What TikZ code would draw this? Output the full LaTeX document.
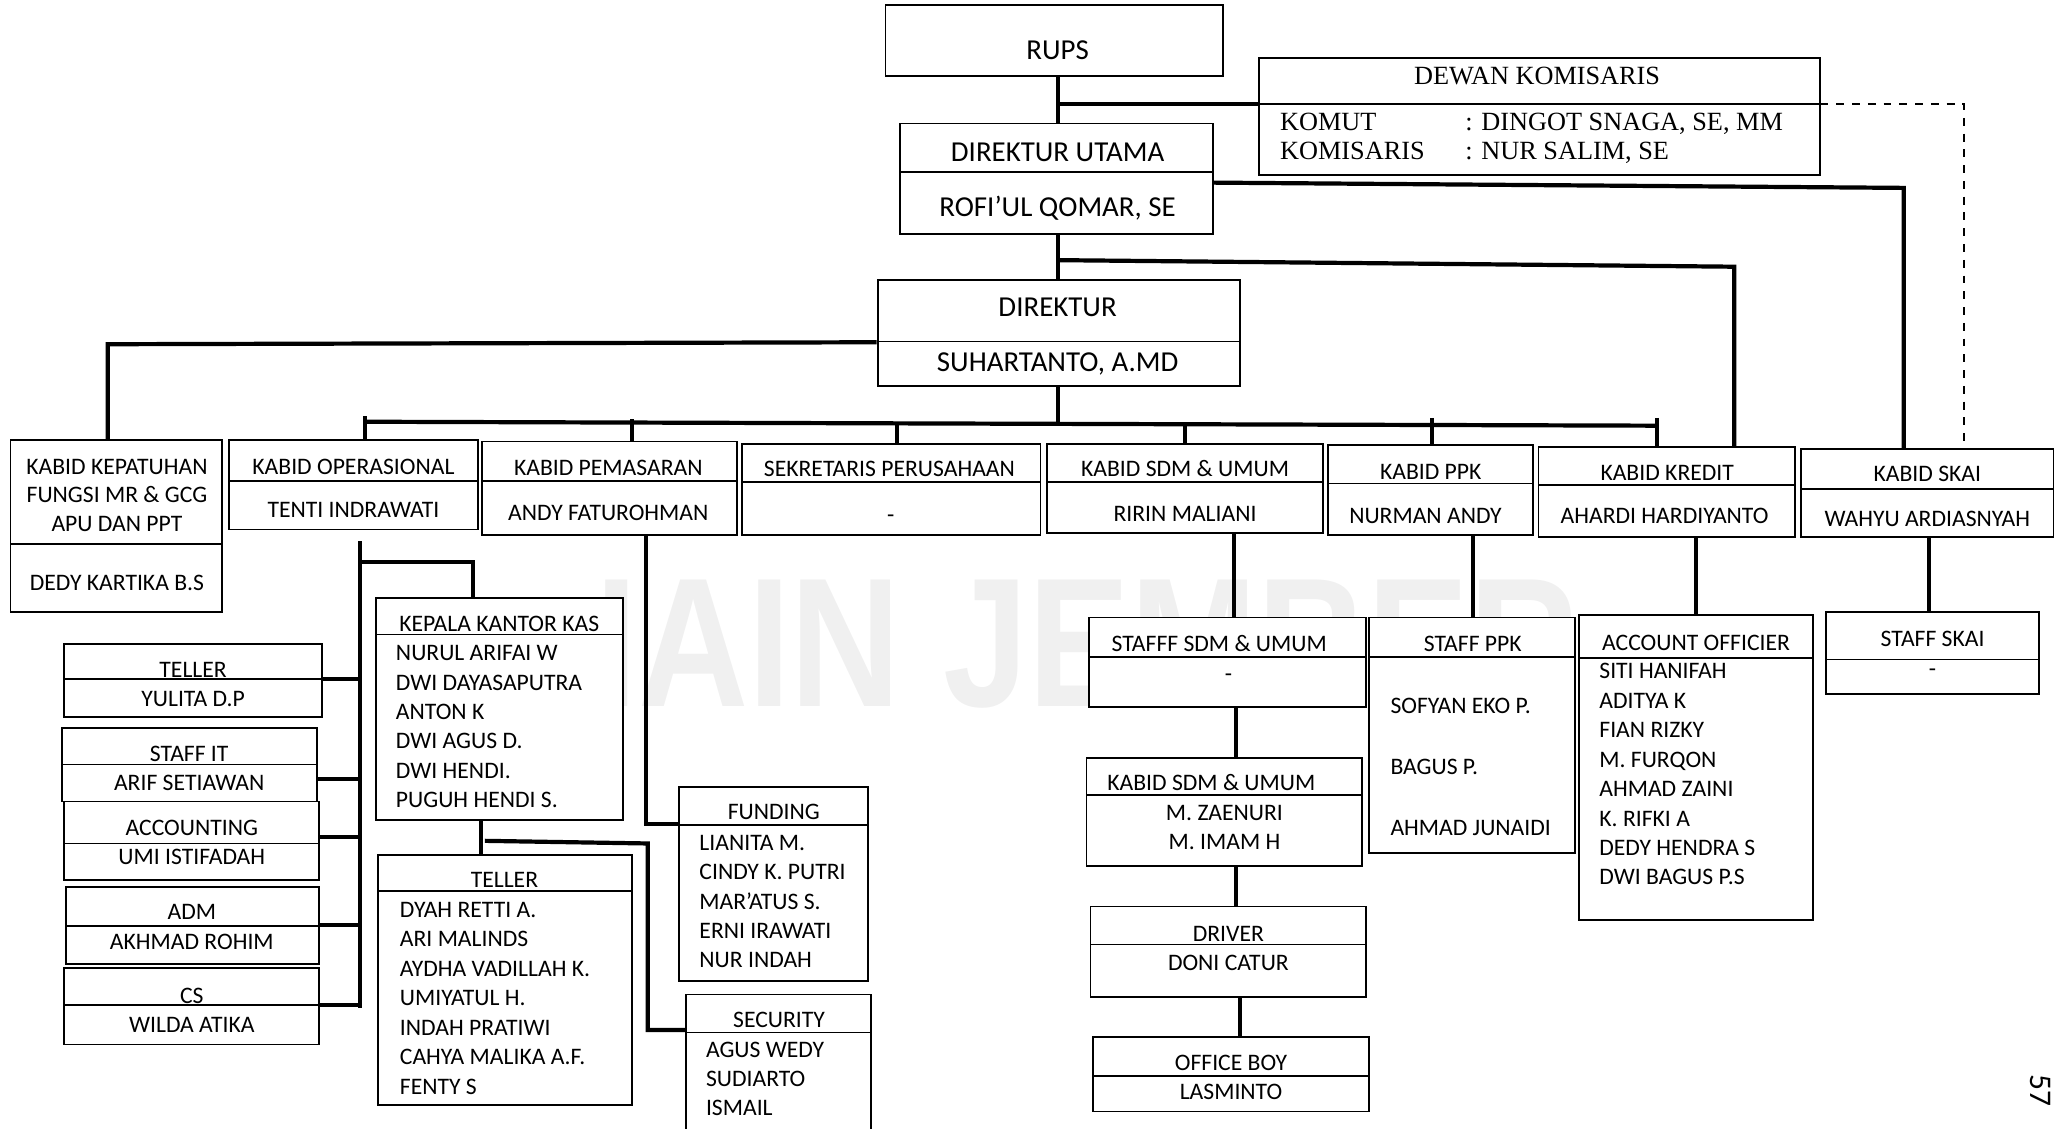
\documentclass[tikz,border=0pt]{standalone}
\usepackage{fontspec}
\setmainfont{Carlito}
\newfontfamily\timesf{Liberation Serif}
\newfontfamily\wmfont{Liberation Sans}
\usetikzlibrary{fit}

\tikzset{
  box/.style={draw, fill=white, line width=0.7pt, inner sep=0pt},
  sep/.style={line width=0.6pt},
  link/.style={line width=1.6pt},
  lbl/.style={inner sep=0pt, text height=5.8pt, text depth=0pt, font=\fontsize{9}{11}\selectfont},
  big/.style={lbl, text height=7.1pt, font=\fontsize{11}{13}\selectfont},
  item/.style={lbl, anchor=west},
  kom/.style={inner sep=0pt, anchor=west, text height=6.6pt, text depth=0pt, font=\timesf\fontsize{10}{12}\selectfont},
  wm/.style={inner sep=0pt, text=black!6, font=\wmfont\bfseries\fontsize{70}{70}\selectfont},
}

% box with a rule under the title: name, x1, y1, x2, y2, y of rule
\newcommand{\orgbox}[6]{%
  \node[box, fit={(#2,#3) (#4,#5)}] (#1) {};
  \draw[sep] (#2,#6) -- (#4,#6);}

\begin{document}
\begin{tikzpicture}[x=0.5pt, y=-0.5pt]
  \useasboundingbox (0,0) rectangle (1568,859);
  \clip (0,0) rectangle (1568,859);

  \node[wm] (wmark) at (828,490) {\scalebox{0.83}[1]{IAIN JEMBER}};

  % top
  \node[box, fit={(674,4) (931,58)}] (rups) {};
  \node[big] (rups-t) at (805,38) {RUPS};
  \orgbox{dewan}{958}{44}{1385}{133}{79}
  \node[kom, anchor=center] (dewan-t) at (1170,58) {DEWAN KOMISARIS};
  \node[kom] (komut) at (974,93) {KOMUT};
  \node[kom] (komut-n) at (1115,93) {: DINGOT SNAGA, SE, MM};
  \node[kom] (komis) at (974,115) {KOMISARIS};
  \node[kom] (komis-n) at (1115,115) {: NUR SALIM, SE};
  \orgbox{dirut}{685}{94}{923}{178}{131}
  \node[big] (dirut-t) at (805,116) {DIREKTUR UTAMA};
  \node[big] (dirut-n) at (805,158) {ROFI’UL QOMAR, SE};
  \orgbox{dir}{668}{213}{944}{294}{260}
  \node[big] (dir-t) at (805,234) {DIREKTUR};
  \node[big] (dir-n) at (805,276) {SUHARTANTO, A.MD};

  % kabid row
  \orgbox{kepat}{8}{335}{169}{466}{414}
  \node[lbl] (kepat-t1) at (89,355) {KABID KEPATUHAN};
  \node[lbl] (kepat-t2) at (89,377) {FUNGSI MR \& GCG};
  \node[lbl] (kepat-t3) at (89,399) {APU DAN PPT};
  \node[lbl] (kepat-n) at (89,444) {DEDY KARTIKA B.S};
  \orgbox{oper}{174}{335}{364}{403}{366}
  \node[lbl] (oper-t) at (269,355) {KABID OPERASIONAL};
  \node[lbl] (oper-n) at (269,388) {TENTI INDRAWATI};
  \orgbox{pemas}{367}{336}{561}{407}{366}
  \node[lbl] (pemas-t) at (463,356) {KABID PEMASARAN};
  \node[lbl] (pemas-n) at (463,390) {ANDY FATUROHMAN};
  \orgbox{sekr}{565}{338}{792}{407}{367}
  \node[lbl] (sekr-t) at (677,357) {SEKRETARIS PERUSAHAAN};
  \node[lbl] (sekr-n) at (678,392) {-};
  \orgbox{sdm}{797}{338}{1007}{406}{367}
  \node[lbl] (sdm-t) at (902,357) {KABID SDM \& UMUM};
  \node[lbl] (sdm-n) at (902,391) {RIRIN MALIANI};
  \orgbox{ppk}{1011}{339}{1167}{407}{368}
  \node[lbl] (ppk-t) at (1089,359) {KABID PPK};
  \node[lbl] (ppk-n) at (1085,393) {NURMAN ANDY};
  \orgbox{kredit}{1171}{340}{1366}{409}{369}
  \node[lbl] (kredit-t) at (1269,360) {KABID KREDIT};
  \node[lbl] (kredit-n) at (1267,393) {AHARDI HARDIYANTO};
  \orgbox{skai}{1371}{342}{1563}{409}{372}
  \node[lbl] (skai-t) at (1467,361) {KABID SKAI};
  \node[lbl] (skai-n) at (1467,395) {WAHYU ARDIASNYAH};

  % operasional staff
  \orgbox{tel1}{49}{490}{245}{546}{517}
  \node[lbl] (tel1-t) at (147,510) {TELLER};
  \node[lbl] (tel1-n) at (147,532) {YULITA D.P};
  \orgbox{sit}{47}{554}{241}{610}{582}
  \node[lbl] (sit-t) at (144,574) {STAFF IT};
  \node[lbl] (sit-n) at (144,596) {ARIF SETIAWAN};
  \orgbox{acc}{49}{610}{243}{670}{642}
  \node[lbl] (acc-t) at (146,630) {ACCOUNTING};
  \node[lbl] (acc-n) at (146,652) {UMI ISTIFADAH};
  \orgbox{adm}{50}{675}{243}{734}{705}
  \node[lbl] (adm-t) at (146,694) {ADM};
  \node[lbl] (adm-n) at (146,717) {AKHMAD ROHIM};
  \orgbox{cs}{49}{737}{243}{795}{765}
  \node[lbl] (cs-t) at (146,758) {CS};
  \node[lbl] (cs-n) at (146,780) {WILDA ATIKA};

  \orgbox{kkk}{286}{455}{474}{624}{483}
  \node[lbl] (kkk-t) at (380,475) {KEPALA KANTOR KAS};
  \foreach \s [count=\i] in {NURUL ARIFAI W, DWI DAYASAPUTRA, ANTON K, DWI AGUS D., DWI HENDI., PUGUH HENDI S.}
    \node[item] (kkk-\i) at (301,{497+22.4*(\i-1)}) {\s};
  \orgbox{tel2}{288}{651}{481}{841}{678}
  \node[lbl] (tel2-t) at (384,670) {TELLER};
  \foreach \s [count=\i] in {DYAH RETTI A., ARI MALINDS, AYDHA VADILLAH K., UMIYATUL H., INDAH PRATIWI, CAHYA MALIKA A.F., FENTY S}
    \node[item] (tel2-\i) at (304,{692.5+22.4*(\i-1)}) {\s};
  \orgbox{fund}{517}{599}{661}{747}{628}
  \node[lbl] (fund-t) at (589,618) {FUNDING};
  \foreach \s [count=\i] in {LIANITA M., CINDY K. PUTRI, MAR’ATUS S., ERNI IRAWATI, NUR INDAH}
    \node[item] (fund-\i) at (532,{641.7+22.25*(\i-1)}) {\s};
  \orgbox{sec}{522}{757}{663}{880}{786}
  \node[lbl] (sec-t) at (593,776) {SECURITY};
  \foreach \s [count=\i] in {AGUS WEDY, SUDIARTO, ISMAIL}
    \node[item] (sec-\i) at (537,{799+22.3*(\i-1)}) {\s};

  % sdm staff
  \orgbox{stsdm}{829}{470}{1040}{538}{500}
  \node[lbl] (stsdm-t) at (928,490) {STAFFF SDM \& UMUM};
  \node[lbl] (stsdm-n) at (935,513) {-};
  \orgbox{sdm2}{827}{577}{1037}{659}{605}
  \node[lbl] (sdm2-t) at (922,596) {KABID SDM \& UMUM};
  \node[lbl] (sdm2-n1) at (932,619) {M. ZAENURI};
  \node[lbl] (sdm2-n2) at (932,641) {M. IMAM H};
  \orgbox{drv}{830}{690}{1040}{759}{719}
  \node[lbl] (drv-t) at (935,711) {DRIVER};
  \node[lbl] (drv-n) at (935,733) {DONI CATUR};
  \orgbox{ob}{832}{789}{1042}{846}{819}
  \node[lbl] (ob-t) at (937,809) {OFFICE BOY};
  \node[lbl] (ob-n) at (937,831) {LASMINTO};

  % ppk, kredit, skai staff
  \orgbox{stppk}{1042}{470}{1199}{649}{500}
  \node[lbl] (stppk-t) at (1121,490) {STAFF PPK};
  \foreach \s [count=\i] in {SOFYAN EKO P., BAGUS P., AHMAD JUNAIDI}
    \node[item] (stppk-\i) at (1058,{537+46.7*(\i-1)}) {\s};
  \orgbox{ao}{1202}{468}{1380}{700}{501}
  \node[lbl] (ao-t) at (1291,489) {ACCOUNT OFFICIER};
  \foreach \s [count=\i] in {SITI HANIFAH, ADITYA K, FIAN RIZKY, M. FURQON, AHMAD ZAINI, K. RIFKI A, DEDY HENDRA S, DWI BAGUS P.S}
    \node[item] (ao-\i) at (1217,{511+22.4*(\i-1)}) {\s};
  \orgbox{stskai}{1390}{466}{1552}{528}{502}
  \node[lbl] (stskai-t) at (1471,486) {STAFF SKAI};
  \node[lbl] (stskai-n) at (1471,509) {-};

  \node[rotate=-90, inner sep=0pt, font=\fontsize{12}{14}\selectfont] (page) at (1553,830) {57};

  % lines
  \coordinate (j-rups) at (805,79);
  \coordinate (j-dir) at (805,198);
  \coordinate (dash) at (1495,79);
  \coordinate (to-skai) at (1449,143);
  \coordinate (to-kredit) at (1320,203);
  \coordinate (to-kepat) at (82,262);
  \coordinate (bus-l) at (278,321);
  \coordinate (bus-r) at (1261,324);
  \coordinate (bus-m) at (805,322.6);
  \draw[link] (rups.south -| j-rups) -- (dirut.north -| j-rups);
  \draw[link] (j-rups) -- (dewan.west |- j-rups);
  \draw[dashed, line width=0.6pt] (dewan.east |- dash) -- (dash) -- (dash |- skai.north);
  \draw[link] ([yshift=-1.5pt]dirut.east) -- (to-skai) -- (to-skai |- skai.north);
  \draw[link] (dirut.south -| j-dir) -- (dir.north -| j-dir);
  \draw[link] (j-dir) -- (to-kredit) -- (to-kredit |- kredit.north);
  \draw[link] ([yshift=-3.5pt]dir.west) -- (to-kepat) -- (to-kepat |- kepat.north);
  \draw[link] (dir.south -| j-dir) -- (bus-m);
  \draw[link] (bus-l) -- (bus-r);
  \foreach \n/\x/\y in {oper/278/317, pemas/481/319, sekr/683/322, sdm/902/323, ppk/1090/318, kredit/1261/318} {
    \path (\x,\y) coordinate (tk);
    \draw[link] (tk) -- (tk |- \n.north);
  }

  \coordinate (op-top) at (274,412);
  \coordinate (op-bot) at (274,767);
  \coordinate (to-kkk) at (360,428);
  \draw[link] (op-top) -- (op-bot);
  \draw[link] (to-kkk -| op-top) -- (to-kkk) -- (to-kkk |- kkk.north);
  \foreach \n/\y in {tel1/517, sit/593, acc/637, adm/704, cs/765} {
    \path (274,\y) coordinate (tk);
    \draw[link] (tk -| \n.east) -- (tk);
  }
  \coordinate (kkk-j) at (366,640);
  \coordinate (to-sec) at (493,642);
  \coordinate (sec-j) at (493,784);
  \draw[link] (kkk.south -| kkk-j) -- (tel2.north -| kkk-j);
  \draw[link] ([xshift=1.5pt]kkk-j) -- (to-sec) -- (sec-j) -- (sec.west |- sec-j);
  \coordinate (to-fund) at (492,627);
  \draw[link] (pemas.south -| to-fund) -- (to-fund) -- (fund.west |- to-fund);

  \coordinate (sdm-x) at (939,440);
  \coordinate (sdm-y) at (941,600);
  \coordinate (drv-x) at (944,770);
  \draw[link] (sdm.south -| sdm-x) -- (stsdm.north -| sdm-x);
  \draw[link] (stsdm.south -| sdm-y) -- (sdm2.north -| sdm-y);
  \draw[link] (sdm2.south -| sdm-y) -- (drv.north -| sdm-y);
  \draw[link] (drv.south -| drv-x) -- (ob.north -| drv-x);

  \coordinate (ppk-x) at (1121,440);
  \coordinate (kredit-x) at (1291,440);
  \coordinate (skai-x) at (1468,440);
  \draw[link] (ppk.south -| ppk-x) -- (stppk.north -| ppk-x);
  \draw[link] (kredit.south -| kredit-x) -- (ao.north -| kredit-x);
  \draw[link] (skai.south -| skai-x) -- (stskai.north -| skai-x);
\end{tikzpicture}
\end{document}
